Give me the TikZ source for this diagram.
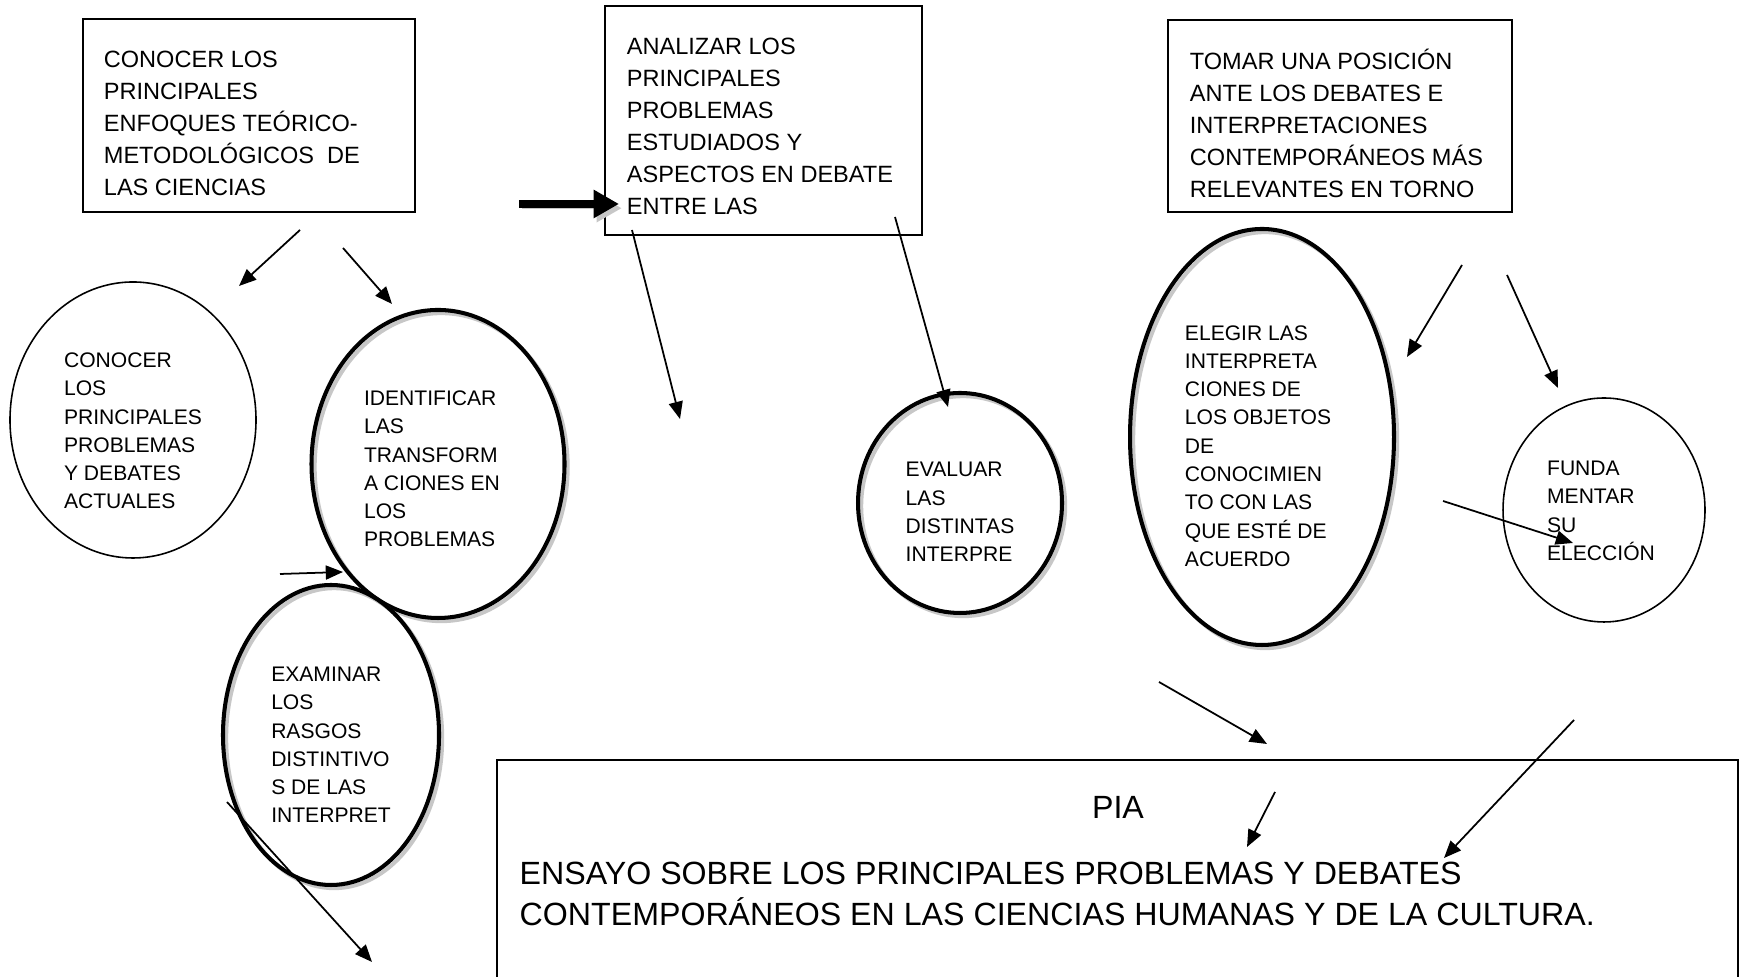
\documentclass[tikz,border=0pt]{standalone}
\usepackage{fontspec}
\setmainfont{Liberation Sans}
\usetikzlibrary{shapes.geometric,arrows.meta}

\begin{document}
\begin{tikzpicture}[
	caja/.style   = {draw, line width=0.45pt, inner sep=0pt},
	txtcaja/.style = {align=left, inner sep=0pt, anchor=west, font=\fontsize{6.7}{9.1}\selectfont},
	ovalo/.style  = {draw, ellipse, line width=0.45pt, inner sep=0pt},
	sombra/.style = {ovalo, line width=1.15pt, preaction={draw=black!22, line width=1.15pt, transform canvas={shift={(0.9pt,-0.9pt)}}}},
	txtovalo/.style = {align=left, inner sep=0pt, font=\fontsize{6}{8.05}\selectfont},
	flecha/.style = {line width=0.5pt, -{Triangle[length=4.9pt,width=4pt]}},
	gruesa/.style = {line width=2.3pt, -{Triangle[length=7.2pt,width=7.6pt]}, preaction={draw=black!22, transform canvas={shift={(0.8pt,-1.2pt)}}}},
	]
	\useasboundingbox (0,0) rectangle (17.39,9.77);
	\clip (0,0) rectangle (17.39,9.77);

	% cajas de arriba
	\node[caja, minimum width=3.32cm, minimum height=1.93cm] (conocer) at (2.49,8.615) {};
	\node[caja, minimum width=3.17cm, minimum height=2.29cm] (analizar) at (7.635,8.565) {};
	\node[caja, minimum width=3.44cm, minimum height=1.92cm] (tomar) at (13.40,8.61) {};
	\node[txtcaja] (conocer-t) at ([shift={(0.21,-0.075)}]conocer.west)
		{CONOCER LOS\\PRINCIPALES\\ENFOQUES TEÓRICO-\\METODOLÓGICOS~ DE\\LAS CIENCIAS};
	\node[txtcaja] (analizar-t) at ([shift={(0.22,-0.06)}]analizar.west)
		{ANALIZAR LOS\\PRINCIPALES\\PROBLEMAS\\ESTUDIADOS Y\\ASPECTOS EN DEBATE\\ENTRE LAS};
	\node[txtcaja] (tomar-t) at ([shift={(0.22,-0.075)}]tomar.west)
		{TOMAR UNA POSICIÓN\\ANTE LOS DEBATES E\\INTERPRETACIONES\\CONTEMPORÁNEOS MÁS\\RELEVANTES EN TORNO};

	% ovalos
	\node[ovalo,  minimum width=2.46cm, minimum height=2.76cm] (problemas) at (1.33,5.57) {};
	\node[sombra, minimum width=2.53cm, minimum height=3.08cm] (identificar) at (4.38,5.13) {};
	\node[sombra, minimum width=2.16cm, minimum height=3.00cm] (examinar) at (3.31,2.42) {};
	\node[sombra, minimum width=2.04cm, minimum height=2.20cm] (evaluar) at (9.60,4.74) {};
	\node[sombra, minimum width=2.64cm, minimum height=4.16cm] (elegir) at (12.62,5.40) {};
	\node[ovalo,  minimum width=2.02cm, minimum height=2.24cm] (fundamentar) at (16.04,4.67) {};

	\node[txtovalo] (problemas-t) at ([shift={(0,-0.11)}]problemas.center)
		{CONOCER\\LOS\\PRINCIPALES\\PROBLEMAS\\Y DEBATES\\ACTUALES};
	\node[txtovalo] (identificar-t) at ([shift={(-0.06,-0.05)}]identificar.center)
		{IDENTIFICAR\\LAS\\TRANSFORM\\A CIONES EN\\LOS\\PROBLEMAS};
	\node[txtovalo] (examinar-t) at ([shift={(0,-0.10)}]examinar.center)
		{EXAMINAR\\LOS\\RASGOS\\DISTINTIVO\\S DE LAS\\INTERPRET};
	\node[txtovalo] (evaluar-t) at ([shift={(0,-0.09)}]evaluar.center)
		{EVALUAR\\LAS\\DISTINTAS\\INTERPRE};
	\node[txtovalo] (elegir-t) at ([shift={(-0.04,-0.09)}]elegir.center)
		{ELEGIR LAS\\INTERPRETA\\CIONES DE\\LOS OBJETOS\\DE\\CONOCIMIEN\\TO CON LAS\\QUE ESTÉ DE\\ACUERDO};
	\node[txtovalo] (fundamentar-t) at ([shift={(-0.03,-0.01)}]fundamentar.center)
		{FUNDA\\MENTAR\\SU\\ELECCIÓN};

	% caja PIA
	\node[draw, line width=0.6pt, anchor=north west, minimum width=12.41cm, minimum height=2.8cm] (pia) at (4.96,2.18) {};
	\node[font=\fontsize{9.15}{11.5}\selectfont, inner sep=0pt] (pia-t) at (11.18,1.70) {PIA};
	\node[font=\fontsize{9.15}{11.5}\selectfont, inner sep=0pt, align=left, anchor=west] (ensayo) at (5.19,0.83)
		{ENSAYO SOBRE LOS PRINCIPALES PROBLEMAS Y DEBATES\\CONTEMPORÁNEOS EN LAS CIENCIAS HUMANAS Y DE LA CULTURA.};

	% extremos de las flechas
	\coordinate (c1) at (3.00,7.47);	\coordinate (c1t) at (2.39,6.91);
	\coordinate (c2) at (3.43,7.29);	\coordinate (c2t) at (3.92,6.73);
	\coordinate (i1) at (2.80,4.03);	\coordinate (i1t) at (3.43,4.05);
	\coordinate (e1) at (2.27,1.75);	\coordinate (e1t) at (3.72,0.15);
	\coordinate (g1) at (5.19,7.73);	\coordinate (g1t) at (6.19,7.73);
	\coordinate (a1) at (6.32,7.47);	\coordinate (a1t) at (6.80,5.58);
	\coordinate (a2) at (8.95,7.60);	\coordinate (a2t) at (9.48,5.70);
	\coordinate (t1) at (14.62,7.12);	\coordinate (t1t) at (14.07,6.20);
	\coordinate (t2) at (15.07,7.02);	\coordinate (t2t) at (15.58,5.89);
	\coordinate (f1) at (14.43,4.76);	\coordinate (f1t) at (15.73,4.34);
	\coordinate (p1) at (11.59,2.95);	\coordinate (p1t) at (12.67,2.33);
	\coordinate (p2) at (12.75,1.85);	\coordinate (p2t) at (12.47,1.30);
	\coordinate (p3) at (15.74,2.57);	\coordinate (p3t) at (14.44,1.19);

	\draw[gruesa] (g1) -- (g1t);
	\foreach \a/\b in {c1/c1t, c2/c2t, i1/i1t, e1/e1t, a1/a1t, a2/a2t, t1/t1t, t2/t2t, f1/f1t, p1/p1t, p2/p2t, p3/p3t}
		{\draw[flecha] (\a) -- (\b);}

\end{tikzpicture}
\end{document}
